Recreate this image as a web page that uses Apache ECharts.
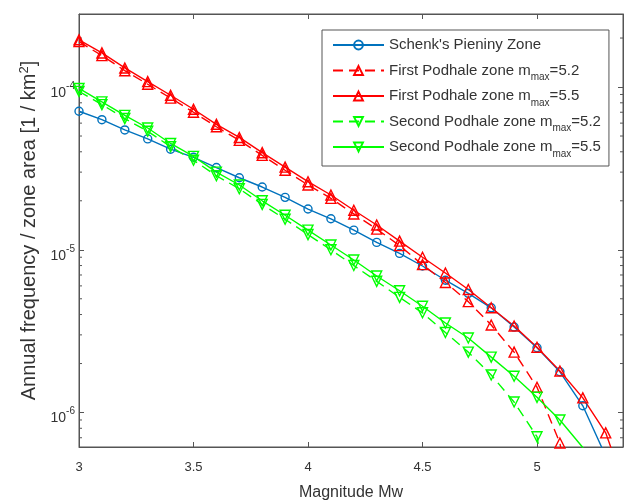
<!DOCTYPE html>
<html>
<head>
<meta charset="utf-8">
<script src="https://cdn.jsdelivr.net/npm/echarts@6/dist/echarts.min.js"></script>
<style>
html,body{margin:0;padding:0;background:#fff;}
#chart{width:627px;height:503px;}
</style>
</head>
<body>
<div id="chart"></div>
<script>
var magnitudes = [3.0,3.1,3.2,3.3,3.4,3.5,3.6,3.7,3.8,3.9,4.0,4.1,4.2,4.3,4.4,4.5,4.6,4.7,4.8,4.9,5.0,5.1,5.2,5.3,5.4];

var schenkPieniny = [7.1e-5,6.3e-5,5.45e-5,4.8e-5,4.15e-5,3.7e-5,3.2e-5,2.77e-5,2.43e-5,2.1e-5,1.78e-5,1.55e-5,1.32e-5,1.11e-5,9.5e-6,7.95e-6,6.5e-6,5.4e-6,4.4e-6,3.35e-6,2.5e-6,1.78e-6,1.1e-6,5.4e-7,null];
var firstPodhale52 = [1.9e-4,1.56e-4,1.26e-4,1.04e-4,8.55e-5,7.0e-5,5.7e-5,4.7e-5,3.8e-5,3.08e-5,2.5e-5,2.07e-5,1.66e-5,1.34e-5,1.06e-5,8.1e-6,6.3e-6,4.8e-6,3.45e-6,2.35e-6,1.43e-6,6.5e-7,1e-7,null,null];
var firstPodhale55 = [1.95e-4,1.62e-4,1.31e-4,1.08e-4,8.9e-5,7.3e-5,5.9e-5,4.9e-5,3.95e-5,3.22e-5,2.62e-5,2.17e-5,1.75e-5,1.42e-5,1.13e-5,9.0e-6,7.2e-6,5.7e-6,4.4e-6,3.4e-6,2.52e-6,1.8e-6,1.23e-6,7.5e-7,3.0e-7];
var secondPodhale52 = [9.4e-5,7.8e-5,6.4e-5,5.35e-5,4.3e-5,3.55e-5,2.85e-5,2.37e-5,1.9e-5,1.54e-5,1.24e-5,1.0e-5,8.0e-6,6.4e-6,5.1e-6,4.1e-6,3.1e-6,2.35e-6,1.7e-6,1.16e-6,7.1e-7,1e-7,null,null,null];
var secondPodhale55 = [9.8e-5,8.1e-5,6.7e-5,5.6e-5,4.5e-5,3.75e-5,3.0e-5,2.5e-5,2.0e-5,1.63e-5,1.32e-5,1.07e-5,8.65e-6,6.9e-6,5.6e-6,4.5e-6,3.55e-6,2.87e-6,2.19e-6,1.67e-6,1.24e-6,9.0e-7,6.1e-7,1.5e-7,null];

var seriesNames = ["Schenk's Pieniny Zone","First Podhale zone mmax=5.2","First Podhale zone mmax=5.5","Second Podhale zone mmax=5.2","Second Podhale zone mmax=5.5"];
var legendLabels = ["Schenk's Pieniny Zone","First Podhale zone m{sub|max}=5.2","First Podhale zone m{sub|max}=5.5","Second Podhale zone m{sub|max}=5.2","Second Podhale zone m{sub|max}=5.5"];

var xMin = 3, xMax = 5.3755;
var yMin = 6.14e-7, yMax = 2.81e-4;
var axisColor = "#555";
var textColor = "#333";
var fontName = "Liberation Sans";

function pairs(vals){
	var out = [];
	for (var i = 0; i < magnitudes.length; i++) {
		if (vals[i] != null) out.push([magnitudes[i], vals[i]]);
	}
	return out;
}

function makeSeries(name, vals, color, dashed, symbol, size, rotate){
	return {
		name: name,
		type: 'line',
		data: pairs(vals),
		symbol: symbol,
		symbolSize: size,
		symbolRotate: rotate,
		clip: true,
		lineStyle: {color: color, width: 1.4, type: dashed ? [10, 6] : 'solid'},
		itemStyle: {color: 'rgba(0,0,0,0)', borderColor: color, borderWidth: 1.4},
		emphasis: {disabled: true},
		z: 2
	};
}

function logLabel(value){
	var e = Math.log(value) / Math.LN10;
	var r = Math.round(e);
	if (Math.abs(e - r) > 1e-6) return '';
	return '{base|10}{sup|' + r + '}';
}

var myChart = echarts.init(document.getElementById('chart'), null, {renderer: 'canvas'});
var option = {
	animation: false,
	textStyle: {fontFamily: fontName},
	grid: {left: 79, right: 4, top: 14, bottom: 56, containLabel: false, outerBoundsMode: 'none', show: true, borderColor: axisColor, borderWidth: 1, backgroundColor: '#fff'},
	legend: {
		orient: 'vertical',
		left: 322,
		top: 30,
		padding: [3, 8, 7, 10],
		itemGap: 1.5,
		itemWidth: 51,
		itemHeight: 11,
		backgroundColor: '#fff',
		borderColor: axisColor,
		borderWidth: 1,
		data: seriesNames,
		formatter: function(name){
			return legendLabels[seriesNames.indexOf(name)];
		},
		textStyle: {
			fontFamily: fontName,
			fontSize: 15,
			lineHeight: 24,
			color: textColor,
			rich: {
				sub: {fontSize: 10, lineHeight: 12, verticalAlign: 'bottom', fontFamily: fontName, color: textColor}
			}
		}
	},
	xAxis: [{
		type: 'value',
		min: xMin,
		max: xMax,
		interval: 0.5,
		name: 'Magnitude Mw',
		nameLocation: 'middle',
		nameGap: 38,
		nameTextStyle: {fontSize: 16, color: textColor, fontFamily: fontName},
		axisLine: {show: true, lineStyle: {color: axisColor}},
		axisTick: {show: true, inside: true, length: 5, lineStyle: {color: axisColor}},
		axisLabel: {showMaxLabel: false, color: textColor, fontSize: 13, margin: 14, fontFamily: fontName},
		splitLine: {show: false}
	}, {
		type: 'value',
		position: 'top',
		min: xMin,
		max: xMax,
		interval: 0.5,
		axisLine: {show: true, lineStyle: {color: axisColor}},
		axisTick: {show: true, inside: true, length: 5, lineStyle: {color: axisColor}},
		axisLabel: {show: false},
		splitLine: {show: false}
	}],
	yAxis: [{
		type: 'log',
		logBase: 10,
		min: yMin,
		max: yMax,
		name: 'Annual frequency / zone area [1 / km{sup|2}]',
		nameLocation: 'middle',
		nameGap: 34,
		nameTextStyle: {
			fontSize: 20, color: textColor, fontFamily: fontName,
			rich: {sup: {fontSize: 13, color: textColor, fontFamily: fontName, padding: [0, 0, 10, 0]}}
		},
		axisLine: {show: true, lineStyle: {color: axisColor}},
		axisTick: {show: true, inside: true, length: 5, lineStyle: {color: axisColor}},
		axisLabel: {
			color: textColor, margin: 4, fontFamily: fontName,
			showMinLabel: false, showMaxLabel: false,
			formatter: logLabel,
			rich: {
				base: {fontSize: 14, color: textColor, fontFamily: fontName, padding: [12, 0, 0, 0]},
				sup: {fontSize: 10, color: textColor, fontFamily: fontName, padding: [0, 0, 2, 0]}
			}
		},
		splitLine: {show: false}
	}, {
		type: 'log',
		logBase: 10,
		min: yMin,
		max: yMax,
		position: 'right',
		axisLine: {show: true, lineStyle: {color: axisColor}},
		axisTick: {show: true, inside: true, length: 5, lineStyle: {color: axisColor}},
		axisLabel: {show: false},
		splitLine: {show: false}
	}],
	series: [
		makeSeries(seriesNames[0], schenkPieniny, '#0072BD', false, 'circle', 8, 0),
		makeSeries(seriesNames[1], firstPodhale52, '#FF0000', true, 'triangle', 10, 0),
		makeSeries(seriesNames[2], firstPodhale55, '#FF0000', false, 'triangle', 10, 0),
		makeSeries(seriesNames[3], secondPodhale52, '#00FF00', true, 'triangle', 10, 180),
		makeSeries(seriesNames[4], secondPodhale55, '#00FF00', false, 'triangle', 10, 180)
	]
};
myChart.setOption(option);

// minor log ticks (2..9 per decade), placed through the chart's own scale
var minorTicks = [];
for (var d = -7; d <= -4; d++) {
	for (var m = 2; m <= 9; m++) {
		var v = m * Math.pow(10, d);
		if (v <= yMin || v >= yMax) continue;
		var pl = myChart.convertToPixel({xAxisIndex: 0, yAxisIndex: 0}, [xMin, v]);
		var pr = myChart.convertToPixel({xAxisIndex: 0, yAxisIndex: 0}, [xMax, v]);
		minorTicks.push({type: 'line', shape: {x1: pl[0], y1: pl[1], x2: pl[0] + 3, y2: pl[1]}, style: {stroke: axisColor, lineWidth: 1}, silent: true});
		minorTicks.push({type: 'line', shape: {x1: pr[0] - 3, y1: pr[1], x2: pr[0], y2: pr[1]}, style: {stroke: axisColor, lineWidth: 1}, silent: true});
	}
}
myChart.setOption({graphic: minorTicks});
</script>
</body>
</html>
